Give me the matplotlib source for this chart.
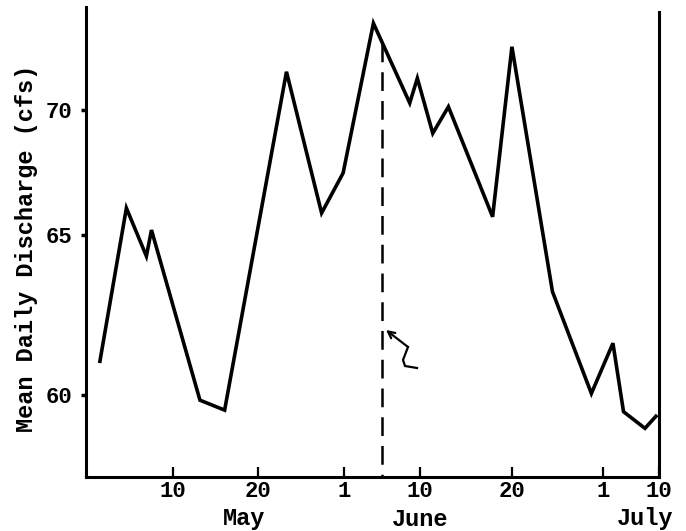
import numpy as np
import matplotlib
matplotlib.use("Agg")
import matplotlib.pyplot as plt
import matplotlib.transforms as mtransforms
from matplotlib.lines import Line2D
from matplotlib.patches import FancyArrowPatch

# ---- data (day index: May d = d, June d = 31 + d, July d = 61 + d) ----
days = [1.4, 4.55, 6.9, 7.5, 13.2, 16.1, 24.0, 28.9, 31.9, 35.5, 39.8, 40.7,
        42.4, 44.1, 48.9, 51.0, 55.9, 60.6, 63.6, 65.3, 68.75, 70.7]
discharge = [61.0, 66.08, 64.34, 65.2, 59.84, 59.53, 71.53, 65.88, 67.48, 73.47,
             70.28, 71.27, 69.07, 70.13, 65.73, 72.53, 63.23, 60.05, 61.62,
             59.48, 58.96, 59.38]
event_day = 36.5
event_top = 72.68

x_tick_days = [10, 20, 32, 41, 51, 62, 71]
x_tick_labels = ["10", "20", "1", "10", "20", "1", "10"]
months = ["May", "June", "July"]
month_days = [18.4, 41.0, 68.75]
y_ticks = [60, 65, 70]
y_label = "Mean Daily Discharge (cfs)"

# ---- hand-drawn (uneven) axis scales, as in the original ----
x_knot_pos = [173, 258, 344, 420, 512, 603, 659]
y_knot_vals = [60, 65, 70]
y_knot_pos = [-395, -235, -110]


def piecewise(kin, kout):
    kin = np.asarray(kin, float)
    kout = np.asarray(kout, float)
    s0 = (kout[1] - kout[0]) / (kin[1] - kin[0])
    s1 = (kout[-1] - kout[-2]) / (kin[-1] - kin[-2])

    def f(v):
        v = np.asarray(v, float)
        out = np.interp(v, kin, kout)
        out = np.where(v < kin[0], kout[0] + (v - kin[0]) * s0, out)
        out = np.where(v > kin[-1], kout[-1] + (v - kin[-1]) * s1, out)
        return out
    return f


xf = piecewise(x_tick_days, x_knot_pos)
xi = piecewise(x_knot_pos, x_tick_days)
yf = piecewise(y_knot_vals, y_knot_pos)
yi = piecewise(y_knot_pos, y_knot_vals)

FONT = "Liberation Mono"
WEIGHT = "bold"
W, H = 686, 531
fig = plt.figure(figsize=(W / 100, H / 100), dpi=100)
ax = fig.add_axes([86 / W, (H - 477) / H, (659 - 86) / W, (477 - 7) / H])
ax.set_xscale("function", functions=(xf, xi))
ax.set_yscale("function", functions=(yf, yi))

ax.plot(days, discharge, color="black", lw=2.6, solid_joinstyle="miter",
        solid_capstyle="butt")

ylo, yhi = 57.44, 74.12
ax.set_ylim(ylo, yhi)
ax.set_xlim(-0.2, 71.0)

# dashed marker line, drawn from the top down so the dash pattern starts at the curve
ln, = ax.plot([event_day, event_day], [event_top, ylo], color="black", lw=1.8)
ln.set_dashes((7.5, 4))

ax.spines["top"].set_visible(False)
for side in ["left", "bottom", "right"]:
    ax.spines[side].set_linewidth(2.2)
ax.spines["right"].set_bounds(ylo, 73.92)

ax.set_xticks(x_tick_days)
ax.set_xticklabels(x_tick_labels)
ax.set_yticks(y_ticks)
ax.set_yticklabels([str(v) for v in y_ticks])
ax.minorticks_off()
ax.tick_params(axis="x", direction="in", length=7, width=1.6, pad=3,
               labelsize=16)
ax.tick_params(axis="y", direction="out", length=3.5, width=2.5, pad=6,
               labelsize=16)
for lab in ax.get_xticklabels() + ax.get_yticklabels():
    lab.set_family(FONT)
    lab.set_weight(WEIGHT)

trans = mtransforms.blended_transform_factory(ax.transData, fig.transFigure)
for m, d in zip(months, month_days):
    ax.text(d, 1 - 519 / H, m, transform=trans, ha="center", va="center",
            fontsize=17, family=FONT, weight=WEIGHT)

fig.text(27 / W, 1 - 248 / H, y_label, rotation=90, ha="center", va="center",
         fontsize=17, family=FONT, weight=WEIGHT)

# hand-drawn squiggly arrow pointing at the dashed line
sq_x = np.array([408, 403, 405, 417]) / W
sq_y = 1 - np.array([347, 360, 366, 368]) / H
fig.add_artist(Line2D(sq_x, sq_y, transform=fig.transFigure, color="black",
                      lw=1.6))
fig.add_artist(FancyArrowPatch(
    (408 / W, 1 - 347 / H), (386 / W, 1 - 330 / H),
    transform=fig.transFigure, arrowstyle="->", mutation_scale=12,
    color="black", lw=1.6, shrinkA=0, shrinkB=0))

fig.savefig("out.png", dpi=100)
